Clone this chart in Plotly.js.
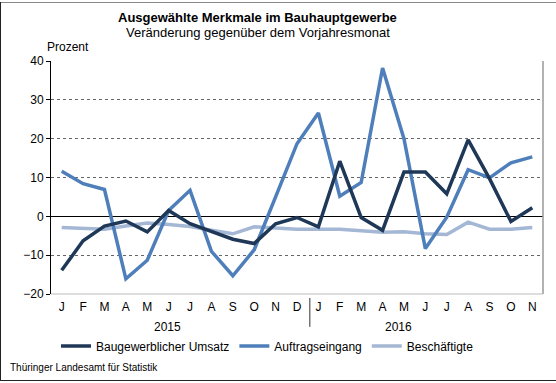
<!DOCTYPE html>
<html>
<head>
<meta charset="utf-8">
<script src="https://cdn.plot.ly/plotly-3.0.1.min.js"></script>
<style>
body{margin:0;padding:0;background:#fff;}
#wrap{position:relative;width:556px;height:383px;}
#chart{width:556px;height:383px;}
.bd{position:absolute;pointer-events:none;}
</style>
</head>
<body>
<div id="wrap">
<div id="chart"></div>
<div class="bd" style="left:0;top:2px;width:556px;height:1px;background:#888;"></div>
<div class="bd" style="left:0;top:2px;width:1px;height:379px;background:#222;"></div>
<div class="bd" style="left:0;top:380px;width:556px;height:1px;background:#222;"></div>
</div>
<script>
const monthLabels = ["J","F","M","A","M","J","J","A","S","O","N","D","J","F","M","A","M","J","J","A","S","O","N"];
const yearLabels = ["2015","2016"];
const umsatz = [-13.9,-6.3,-2.5,-1.2,-4.0,1.5,-1.9,-3.8,-5.9,-7.0,-1.9,-0.3,-2.7,14.2,-0.3,-3.6,11.4,11.4,5.8,19.7,9.7,-1.3,2.2];
const auftrag = [11.6,8.4,6.9,-16.1,-11.3,1.5,6.7,-9.0,-15.3,-8.6,5.0,18.7,26.6,5.2,8.7,38.2,20.0,-8.3,-0.2,12.0,9.9,13.8,15.3];
const beschaeftigte = [-2.9,-3.2,-3.3,-2.5,-1.7,-2.1,-2.6,-3.6,-4.5,-2.7,-3.0,-3.3,-3.3,-3.3,-3.7,-4.1,-4.0,-4.5,-4.7,-1.5,-3.3,-3.3,-2.9];
const seriesNames = ["Baugewerblicher Umsatz","Auftragseingang","Beschäftigte"];
const colors = ["#1f3857","#4f7fba","#a4b7d5"];

const xs = monthLabels.map((_, i) => i);
const traces = [umsatz, auftrag, beschaeftigte].map((ys, k) => ({
  x: xs, y: ys, type: 'scatter', mode: 'lines', name: seriesNames[k],
  line: {color: colors[k], width: 3.5}, hoverinfo: 'skip'
}));
const data = [traces[2], traces[1], traces[0]];
data.forEach(t => t.legendrank = seriesNames.indexOf(t.name) + 1);

const font = "Liberation Sans, Arial, Helvetica, sans-serif";
const layout = {
  width: 556, height: 383,
  margin: {l: 51, r: 13, t: 61, b: 89},
  paper_bgcolor: '#fff', plot_bgcolor: '#fff',
  font: {family: font, size: 12, color: '#000'},
  showlegend: true,
  legend: {orientation: 'h', x: 0.44, xanchor: 'center', y: -0.223, yanchor: 'middle',
           font: {size: 12, family: font}, traceorder: 'normal', itemwidth: 30, tracegroupgap: 0},
  xaxis: {
    range: [-0.5, 22.5], tickvals: xs, ticktext: monthLabels, ticks: '',
    showgrid: false, zeroline: false, showline: false, ticklabelstandoff: 4,
    tickfont: {size: 12, family: font}, fixedrange: true
  },
  yaxis: {
    range: [-20, 40], dtick: 10, tick0: 0, ticks: 'outside', ticklen: 4, tickcolor: '#000',
    showline: true, linecolor: '#000', linewidth: 1,
    showgrid: true, gridcolor: '#666', griddash: 'dot', gridwidth: 1,
    zeroline: true, zerolinecolor: '#000', zerolinewidth: 1,
    tickfont: {size: 12, family: font}, fixedrange: true
  },
  shapes: [
    {type: 'line', xref: 'paper', yref: 'paper', x0: 1, x1: 1, y0: 0, y1: 1, line: {color: '#999', width: 1.5}},
    {type: 'line', xref: 'paper', yref: 'paper', x0: 0, x1: 1, y0: 0, y1: 0, line: {color: '#bbb', width: 1}},
    {type: 'line', xref: 'x', yref: 'paper', x0: 11.6, x1: 11.6, y0: -0.017, y1: -0.141, line: {color: '#333', width: 1}}
  ],
  annotations: [
    {text: '<b>Ausgewählte Merkmale im Bauhauptgewerbe</b>', xref: 'paper', yref: 'paper', x: 0.4207, y: 1.187,
     xanchor: 'center', yanchor: 'middle', showarrow: false, font: {size: 13, family: font}},
    {text: 'Veränderung gegenüber dem Vorjahresmonat', xref: 'paper', yref: 'paper', x: 0.4207, y: 1.123,
     xanchor: 'center', yanchor: 'middle', showarrow: false, font: {size: 13, family: font}},
    {text: 'Prozent', xref: 'paper', yref: 'paper', x: -0.012, y: 1.059,
     xanchor: 'left', yanchor: 'middle', showarrow: false, font: {size: 12, family: font}},
    {text: yearLabels[0], xref: 'x', yref: 'paper', x: 4.95, y: -0.142,
     xanchor: 'center', yanchor: 'middle', showarrow: false, font: {size: 12, family: font}},
    {text: yearLabels[1], xref: 'x', yref: 'paper', x: 15.75, y: -0.142,
     xanchor: 'center', yanchor: 'middle', showarrow: false, font: {size: 12, family: font}},
    {text: 'Thüringer Landesamt für Statistik', xref: 'paper', yref: 'paper', x: -0.087, y: -0.317,
     xanchor: 'left', yanchor: 'middle', showarrow: false, font: {size: 10, family: font}}
  ]
};
Plotly.newPlot('chart', data, layout, {displayModeBar: false, staticPlot: true});
</script>
</body>
</html>
